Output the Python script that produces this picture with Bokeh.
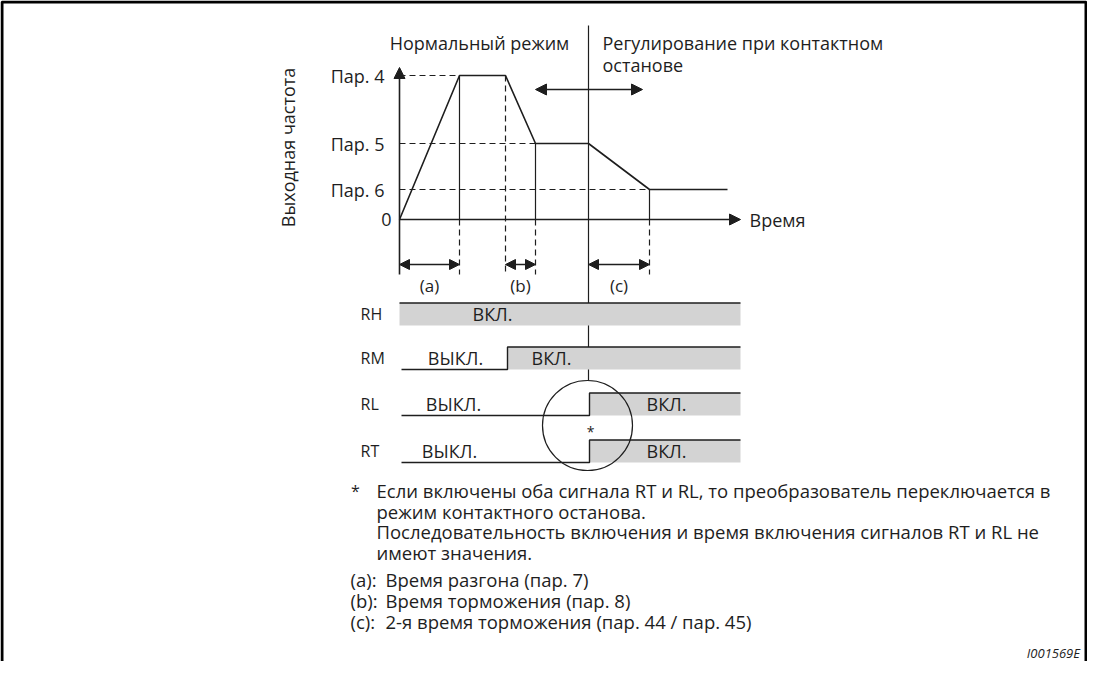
import numpy as np
from bokeh.plotting import figure
from bokeh.models import Range1d, Arrow, NormalHead, ColumnDataSource
from bokeh.embed import file_html
from bokeh.resources import INLINE
from bokeh.core.properties import value

# ---------------- data (time units / frequency units) ----------------
profile_t = [0.0, 6.0, 10.6, 13.6, 18.9, 25.0, 32.8]
profile_f = [0.0, 14.4, 14.4, 7.6, 7.6, 3.0, 3.0]

level_names = ["Пар. 4", "Пар. 5", "Пар. 6"]
level_f = [14.4, 7.6, 3.0]
level_t = [6.0, 13.6, 25.0]          # time at which each level is reached

decel_start_t = 10.6                 # start of deceleration (b)
interval_names = ["(a)", "(b)", "(c)"]
interval_start = [0.0, 10.6, 18.9]
interval_end = [6.0, 13.6, 25.0]

t_switch = 18.9                      # switch to stop-on-contact control
t_axis_end = 34.1

signal_names = ["RH", "RM", "RL", "RT"]
signal_on = [0.0, 10.8, 19.0, 19.0]  # switch-on time of each signal
signal_end = 34.1
on_label_t = [9.3, 15.2, 26.7, 26.7]
off_label_t = [None, 5.6, 5.4, 5.0]

notes = [
    "Если включены оба сигнала RT и RL, то преобразователь переключается в",
    "режим контактного останова.",
    "Последовательность включения и время включения сигналов RT и RL не",
    "имеют значения.",
]
legend_keys = ["(a):", "(b):", "(c):"]
legend_texts = [
    "Время разгона (пар. 7)",
    "Время торможения (пар. 8)",
    "2-я время торможения (пар. 44 / пар. 45)",
]

# ---------------- layout ----------------
FONT = value("Open Sans")
INK = "#1e1e1e"
GRAY = "#d3d3d3"
row_low = [-10.6, -15.0, -19.6, -24.3]
row_h = 2.25
below_axis = -5.5

W, H = 1087, 661
X0 = -39.9                    # left edge of the canvas (time units)
Y1 = 21.9                     # top edge of the canvas (frequency units)
XR = X0 + W / 10
YB = Y1 - H / 10
p = figure(width=W, height=H, x_range=Range1d(X0, XR),
           y_range=Range1d(YB, Y1), output_backend="svg",
           toolbar_location=None, min_border=0)
p.axis.visible = False
p.grid.visible = False
p.outline_line_color = None
p.background_fill_color = "white"
p.border_fill_color = "white"

# frame border (left, top, right)
p.line([X0 + 0.15, X0 + 0.15, XR - 0.15, XR - 0.15],
       [YB, Y1 - 0.15, Y1 - 0.15, YB], line_color="black", line_width=3)

# dashed level lines
for f, t in zip(level_f, level_t):
    p.line([0, t], [f, f], line_color=INK, line_width=1.2, line_dash="6 4")
# solid drop lines from level to time axis, dashed below axis
for f, t in zip(level_f, level_t):
    p.line([t, t], [f, 0], line_color=INK, line_width=1.2)
    p.line([t, t], [0, below_axis], line_color=INK, line_width=1.2, line_dash="6 4")
p.line([decel_start_t, decel_start_t], [level_f[0], below_axis],
       line_color=INK, line_width=1.2, line_dash="6 4")

# frequency profile
p.line(profile_t, profile_f, line_color=INK, line_width=1.6)

# axes
p.add_layout(Arrow(end=NormalHead(size=11, fill_color=INK, line_color=INK),
                   x_start=0, y_start=below_axis, x_end=0, y_end=15.2,
                   line_color=INK, line_width=1.6))
p.add_layout(Arrow(end=NormalHead(size=11, fill_color=INK, line_color=INK),
                   x_start=0, y_start=0, x_end=t_axis_end, y_end=0,
                   line_color=INK, line_width=1.6))

# switching line
p.line([t_switch, t_switch], [19.4, -16.1], line_color=INK, line_width=1.2)

# interval double arrows
isrc = ColumnDataSource(dict(x0=interval_start, x1=interval_end,
                             y=[-4.5] * 3))
p.add_layout(Arrow(start=NormalHead(size=10, fill_color=INK, line_color=INK),
                   end=NormalHead(size=10, fill_color=INK, line_color=INK),
                   x_start="x0", y_start="y", x_end="x1", y_end="y",
                   source=isrc, line_color=INK, line_width=1.4))
mid = [(a + b) / 2 for a, b in zip(interval_start, interval_end)]
p.text(mid, [-6.6] * 3, text=interval_names, text_font=FONT,
       text_font_size="17px", text_align="center", text_baseline="middle",
       text_color=INK)

# top double arrow
p.add_layout(Arrow(start=NormalHead(size=11, fill_color=INK, line_color=INK),
                   end=NormalHead(size=11, fill_color=INK, line_color=INK),
                   x_start=13.6, y_start=13.0, x_end=24.3, y_end=13.0,
                   line_color=INK, line_width=1.4))

# texts of the frequency chart
p.text([-1.5] * 3, level_f, text=level_names, text_font=FONT,
       text_font_size="18px", text_align="right", text_baseline="middle",
       text_color=INK)
p.text([-0.8], [0], text=["0"], text_font=FONT, text_font_size="18px",
       text_align="right", text_baseline="middle", text_color=INK)
p.text([35.0], [0], text=["Время"], text_font=FONT, text_font_size="18px",
       text_align="left", text_baseline="middle", text_color=INK)
p.text([-11.2], [7.2], text=["Выходная частота"], angle=np.pi / 2,
       text_font=FONT, text_font_size="18px", text_align="center",
       text_baseline="middle", text_color=INK)
p.text([8.0], [17.7], text=["Нормальный режим"], text_font=FONT,
       text_font_size="18px", text_align="center", text_baseline="middle",
       text_color=INK)
p.text([20.3, 20.3], [17.7, 15.5],
       text=["Регулирование при контактном", "останове"], text_font=FONT,
       text_font_size="18px", text_align="left", text_baseline="middle",
       text_color=INK)

# signals
for name, on, low, ton, toff in zip(signal_names, signal_on, row_low,
                                    on_label_t, off_label_t):
    high = low + row_h
    p.quad(left=[on], right=[signal_end], bottom=[low], top=[high],
           fill_color=GRAY, line_color=None)
    if on > 0:
        p.line([0.2, on, on, signal_end], [low, low, high, high],
               line_color=INK, line_width=1.4)
    else:
        p.line([on, signal_end], [high, high], line_color=INK, line_width=1.4)
    p.text([-3.9], [low + row_h / 2], text=[name], text_font=FONT,
           text_font_size="16px", text_align="left", text_baseline="middle",
           text_color=INK)
    p.text([ton], [low + row_h / 2], text=["ВКЛ."], text_font=FONT,
           text_font_size="18px", text_align="center",
           text_baseline="middle", text_color=INK)
    if toff is not None:
        p.text([toff], [low + row_h / 2], text=["ВЫКЛ."], text_font=FONT,
               text_font_size="18px", text_align="center",
               text_baseline="middle", text_color=INK)

# circle marking simultaneous switching
p.circle([18.8], [-20.6], radius=4.5, fill_color=None, line_color=INK,
         line_width=1.2)
p.text([19.1], [-21.2], text=["*"], text_font=FONT, text_font_size="14px",
       text_align="center", text_baseline="middle", text_color=INK)

# footnotes
p.text([-4.4], [-27.1], text=["*"], text_font=FONT, text_font_size="16px",
       text_align="center", text_baseline="middle", text_color=INK)
p.text([-2.3] * 4, [-27.1, -29.2, -31.2, -33.3], text=notes, text_font=FONT,
       text_font_size="18.5px", text_align="left", text_baseline="middle",
       text_color=INK)
p.text([-4.9] * 3, [-36.0, -38.1, -40.2], text=legend_keys, text_font=FONT,
       text_font_size="18.5px", text_align="left", text_baseline="middle",
       text_color=INK)
p.text([-1.4] * 3, [-36.0, -38.1, -40.2], text=legend_texts, text_font=FONT,
       text_font_size="18.5px", text_align="left", text_baseline="middle",
       text_color=INK)

p.text([XR - 0.75], [YB + 0.85], text=["I001569E"], text_font=FONT,
       text_font_size="13px", text_font_style="italic", text_align="right",
       text_baseline="middle", text_color=INK)

open("out.html", "w").write(file_html(p, INLINE))
